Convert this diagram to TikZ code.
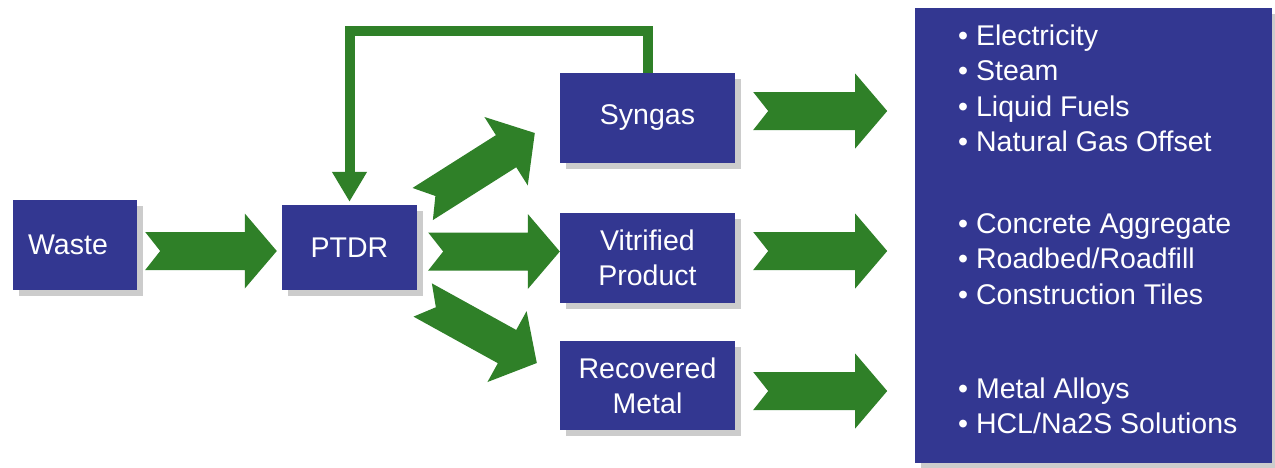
\documentclass[tikz,border=0pt]{standalone}
\usepackage{fontspec}
\setmainfont{Liberation Sans}
\usetikzlibrary{calc,arrows.meta,shadows}
\definecolor{boxblue}{RGB}{51,55,145}
\definecolor{arrgreen}{RGB}{47,128,40}
% #1 tail, #2 tip, #3 head half width, #4 head length
\newcommand{\fatarrow}[4]{%
  \fill[arrgreen] ($(#1)!19pt!90:(#2)$) -- ($(#1)!15pt!(#2)$) -- ($(#1)!19pt!-90:(#2)$)
    -- ($(#2)!#4!(#1)!19pt!90:(#1)$) -- ($(#2)!#4!(#1)!#3!90:(#1)$) -- (#2)
    -- ($(#2)!#4!(#1)!#3!-90:(#1)$) -- ($(#2)!#4!(#1)!19pt!-90:(#1)$) -- cycle;}
\tikzset{
  box/.style={fill=boxblue, text=white, align=center, inner sep=0pt,
    font=\fontsize{28.5}{35}\selectfont,
    drop shadow={shadow xshift=6pt, shadow yshift=-6pt, fill=black!20, opacity=1}},
  item/.style={anchor=base west, text=white, inner sep=0pt, font=\fontsize{28.5}{35}\selectfont},
  feedback/.style={draw=arrgreen, line width=10pt, -{Triangle[width=33pt,length=30pt]}, shorten >=3pt}
}
\begin{document}
\begin{tikzpicture}[x=1pt,y=-1pt]
\useasboundingbox (0,0) rectangle (1275,467);
\fill[white] (0,0) rectangle (1275,467);
% boxes
\node[box, minimum width=124pt, minimum height=90pt] (waste) at (75,245) {\hspace*{-14pt}Waste};
\node[box, minimum width=135pt, minimum height=85pt] (ptdr) at (349.5,247.5) {PTDR};
\node[box, minimum width=175pt, minimum height=90pt] (syngas) at (647.5,118) {Syngas};
\node[box, minimum width=175pt, minimum height=90pt] (vitr) at (647.5,258) {Vitrified\\Product};
\node[box, minimum width=175pt, minimum height=89pt] (metal) at (647.5,385.5) {Recovered\\Metal};
\node[box, minimum width=357pt, minimum height=455pt] (out) at (1093.5,235.5) {};
% list items
\node[item] (i1) at (958,45) {• Electricity};
\node[item] (i2) at (958,80.6) {• Steam};
\node[item] (i3) at (958,116.2) {• Liquid Fuels};
\node[item] (i4) at (958,151.8) {• Natural Gas Offset};
\node[item] (i5) at (958,233) {• Concrete Aggregate};
\node[item] (i6) at (958,268.6) {• Roadbed/Roadfill};
\node[item] (i7) at (958,304.2) {• Construction Tiles};
\node[item] (i8) at (958,398) {• Metal Alloys};
\node[item] (i9) at (958,433.6) {• HCL/Na2S Solutions};
% arrow end coordinates
\coordinate (a1s) at ($(waste.east)+(8,6)$);
\coordinate (a1e) at ($(ptdr.west)+(-5,3.5)$);
\coordinate (a2s) at ($(ptdr.east)+(11,4)$);
\coordinate (a2e) at ($(vitr.west)+(0,-6.5)$);
\coordinate (a3s) at ($(ptdr.east)+(5.5,-43.5)$);
\coordinate (a3e) at ($(syngas.west)+(-25,15)$);
\coordinate (a4s) at ($(ptdr.east)+(5.5,52.5)$);
\coordinate (a4e) at ($(metal.west)+(-23,-22.5)$);
\coordinate (r1s) at ($(syngas.east)+(18,-7)$);
\coordinate (r1e) at ($(out.west)+(-28,0)$);
\coordinate (r2s) at ($(vitr.east)+(18,-7)$);
\coordinate (r3s) at ($(metal.east)+(18,5.5)$);
\fatarrow{a1s}{a1e}{37.5pt}{32pt}
\fatarrow{a2s}{a2e}{37.5pt}{32pt}
\fatarrow{a3s}{a3e}{40.5pt}{34pt}
\fatarrow{a4s}{a4e}{40.5pt}{34pt}
\fatarrow{r1s}{$(r1s)+(134,0)$}{37.5pt}{32pt}
\fatarrow{r2s}{$(r2s)+(134,0)$}{37.5pt}{32pt}
\fatarrow{r3s}{$(r3s)+(134,0)$}{37.5pt}{32pt}
% feedback loop
\draw[feedback] (syngas.north) -- ++(0,-42) -| (ptdr.north);
\end{tikzpicture}
\end{document}
